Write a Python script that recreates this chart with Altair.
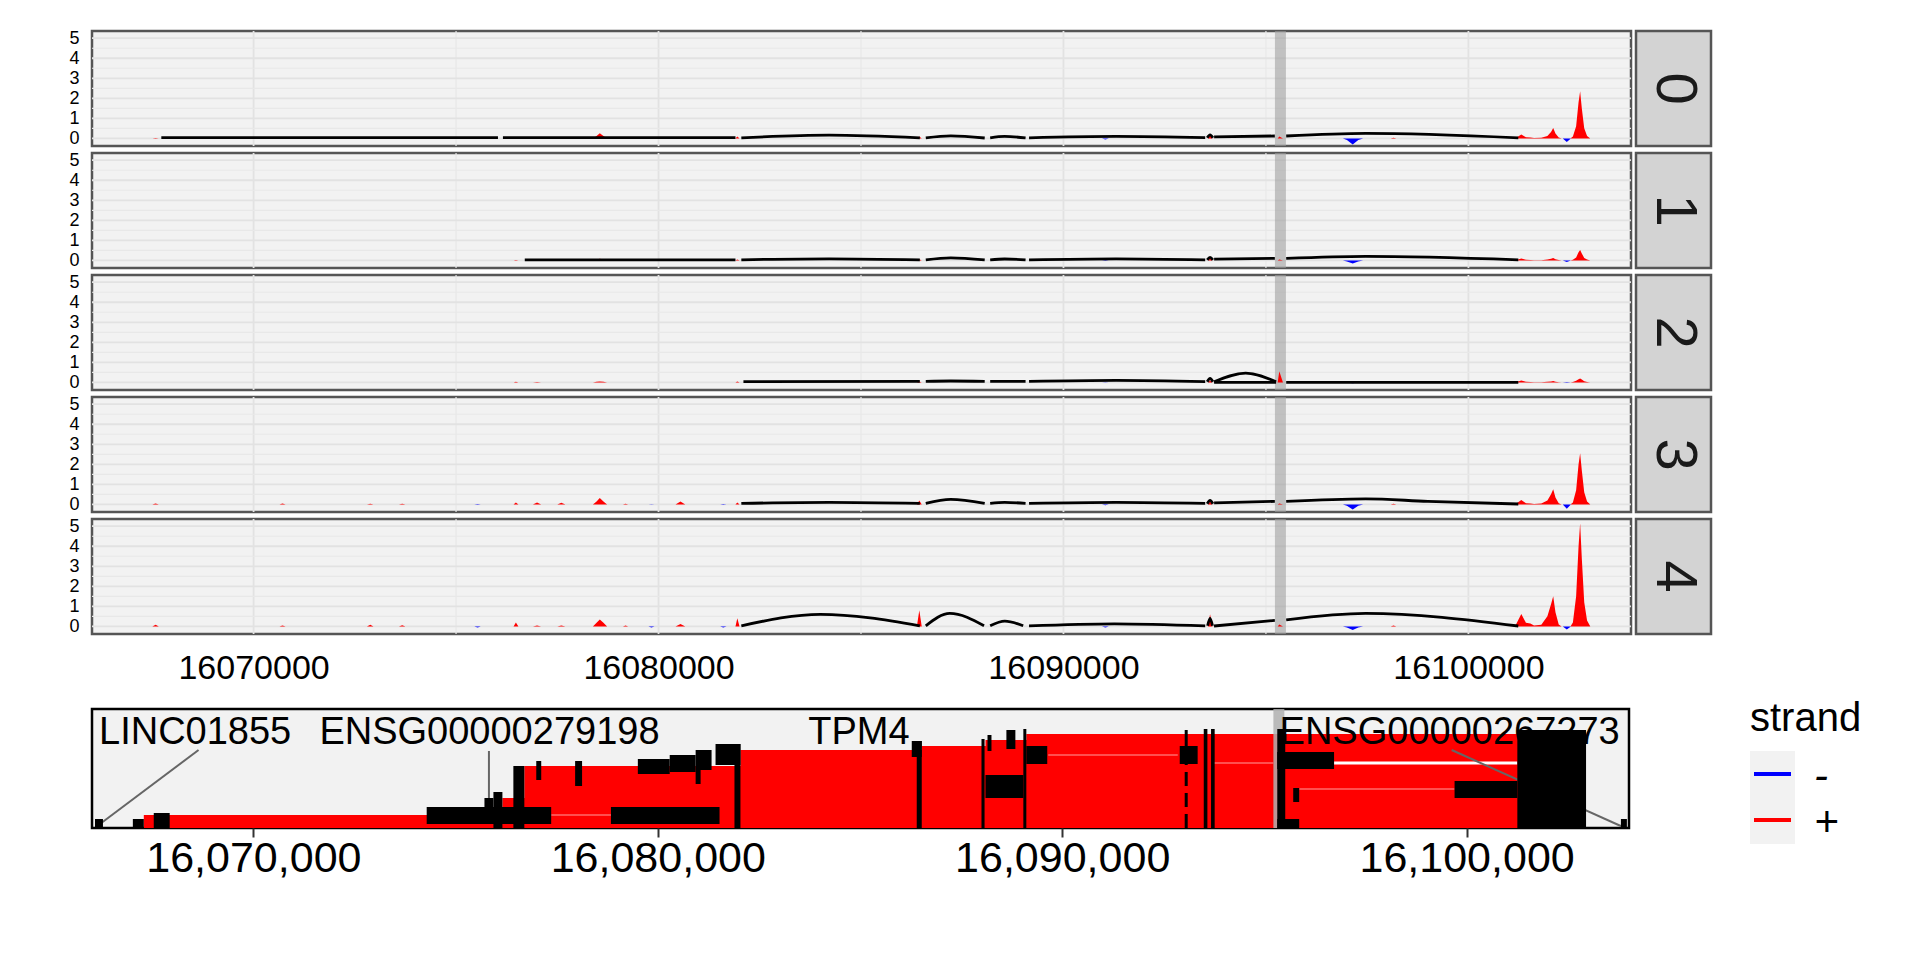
import altair as alt
import pandas as pd

FONT = "Liberation Sans"

# ---------------- axes / scales ----------------
X_DOMAIN = [16066010, 16104015]
Y_DOMAIN = [-0.38, 5.36]
X_TICKS = [16070000, 16080000, 16090000, 16100000]
X_MINOR = [16075000, 16085000, 16095000]
Y_TICKS = [0, 1, 2, 3, 4, 5]
Y_MINOR = [0.5, 1.5, 2.5, 3.5, 4.5]
PANELS = ["0", "1", "2", "3", "4"]
BAND = [16095222, 16095493]

# ---------------- coverage, + strand ----------------
POS_PLUS = [16066000,
            16067500, 16067580, 16067660,
            16070640, 16070714, 16070790,
            16072800, 16072882, 16072960,
            16073590, 16073670, 16073750,
            16076420, 16076478, 16076540,
            16076900, 16077000, 16077100,
            16077500, 16077600, 16077700,
            16078380, 16078470, 16078550, 16078640, 16078730,
            16079120, 16079187, 16079250,
            16080420, 16080542, 16080660,
            16081900, 16081946, 16082000,
            16086380, 16086440, 16086500,
            16093570, 16093620, 16093680,
            16095290, 16095330, 16095420,
            16098080, 16098150, 16098220,
            16101150, 16101306, 16101420, 16101530, 16101620, 16101800,
            16101950, 16102040, 16102094, 16102150, 16102230, 16102300,
            16102520, 16102580, 16102660, 16102720, 16102759, 16102800,
            16102860, 16102930, 16103010,
            16104000]
PLUS_0 = [0,
          0, 0.02, 0, 0, 0, 0, 0, 0, 0, 0, 0, 0,
          0, 0.03, 0, 0, 0, 0, 0, 0.02, 0,
          0, 0.12, 0.26, 0.12, 0,
          0, 0, 0, 0, 0.03, 0, 0, 0.1, 0,
          0, 0.1, 0, 0, 0.2, 0, 0, 0.1, 0, 0, 0.03, 0,
          0, 0.2, 0.06, 0.04, 0.02, 0.03, 0.12, 0.32, 0.52, 0.25, 0.05, 0,
          0, 0.1, 0.6, 1.8, 2.35, 1.5, 0.5, 0.12, 0,
          0]
PLUS_1 = [0,
          0, 0, 0, 0, 0, 0, 0, 0, 0, 0, 0, 0,
          0, 0.02, 0, 0, 0, 0, 0, 0, 0,
          0, 0.04, 0.08, 0.04, 0,
          0, 0, 0, 0, 0, 0, 0, 0.05, 0,
          0, 0.06, 0, 0, 0.1, 0, 0, 0.05, 0, 0, 0, 0,
          0, 0.1, 0.03, 0.02, 0.01, 0.01, 0.04, 0.08, 0.12, 0.06, 0.02, 0,
          0, 0.03, 0.15, 0.4, 0.52, 0.35, 0.12, 0.04, 0,
          0]
PLUS_2 = [0,
          0, 0, 0, 0, 0, 0, 0, 0, 0, 0, 0, 0,
          0, 0.03, 0, 0, 0.02, 0, 0, 0, 0,
          0, 0.03, 0.05, 0.03, 0,
          0, 0, 0, 0, 0, 0, 0, 0.04, 0,
          0, 0.04, 0, 0, 0.1, 0, 0, 0.55, 0, 0, 0, 0,
          0, 0.1, 0.03, 0.02, 0.01, 0.01, 0.03, 0.05, 0.07, 0.03, 0.01, 0,
          0, 0.02, 0.08, 0.16, 0.2, 0.14, 0.06, 0.02, 0,
          0]
PLUS_3 = [0,
          0, 0.05, 0, 0, 0.05, 0, 0, 0.03, 0, 0, 0.03, 0,
          0, 0.1, 0, 0, 0.1, 0, 0, 0.08, 0,
          0, 0.15, 0.32, 0.15, 0,
          0, 0.03, 0, 0, 0.15, 0, 0, 0.1, 0,
          0, 0.2, 0, 0, 0.15, 0, 0, 0.05, 0, 0, 0.03, 0,
          0, 0.22, 0.06, 0.04, 0.02, 0.04, 0.2, 0.5, 0.75, 0.35, 0.06, 0,
          0, 0.1, 0.7, 2.0, 2.55, 1.7, 0.6, 0.15, 0,
          0]
PLUS_4 = [0,
          0, 0.08, 0, 0, 0.05, 0, 0, 0.08, 0, 0, 0.06, 0,
          0, 0.2, 0, 0, 0.05, 0, 0, 0.05, 0,
          0, 0.18, 0.35, 0.18, 0,
          0, 0.05, 0, 0, 0.12, 0, 0, 0.4, 0,
          0, 0.8, 0, 0, 0.6, 0, 0, 0.1, 0, 0, 0.04, 0,
          0, 0.62, 0.18, 0.15, 0.05, 0.08, 0.5, 1.1, 1.5, 0.7, 0.1, 0,
          0, 0.2, 1.5, 4.0, 5.15, 3.4, 1.2, 0.3, 0,
          0]
PLUS = [PLUS_0, PLUS_1, PLUS_2, PLUS_3, PLUS_4]

# ---------------- coverage, - strand ----------------
POS_MINUS = [16066000,
             16075450, 16075532, 16075610,
             16079750, 16079827, 16079900,
             16081520, 16081600, 16081680,
             16090950, 16091035, 16091120,
             16096900, 16097000, 16097143, 16097280, 16097400,
             16102330, 16102430, 16102530,
             16104000]
MINUS_0 = [0, 0, 0, 0, 0, 0, 0, 0, 0, 0, 0, -0.05, 0,
           0, -0.08, -0.3, -0.08, 0, 0, -0.18, 0, 0]
MINUS_1 = [0, 0, 0, 0, 0, 0, 0, 0, 0, 0, 0, -0.03, 0,
           0, -0.05, -0.15, -0.05, 0, 0, -0.08, 0, 0]
MINUS_2 = [0, 0, 0, 0, 0, 0, 0, 0, 0, 0, 0, -0.02, 0,
           0, -0.01, -0.04, -0.01, 0, 0, -0.03, 0, 0]
MINUS_3 = [0, 0, -0.03, 0, 0, -0.02, 0, 0, -0.03, 0, 0, -0.04, 0,
           0, -0.07, -0.25, -0.07, 0, 0, -0.22, 0, 0]
MINUS_4 = [0, 0, -0.05, 0, 0, -0.05, 0, 0, -0.05, 0, 0, -0.06, 0,
           0, -0.06, -0.18, -0.06, 0, 0, -0.15, 0, 0]
MINUS = [MINUS_0, MINUS_1, MINUS_2, MINUS_3, MINUS_4]

# ---------------- junction arcs (black) ----------------
L0_X = [16067722, 16076035, 16076158, 16081900, 16082045, 16084212, 16086453,
        16086600, 16087217, 16088055, 16088190, 16088547, 16089064,
        16089150, 16091300, 16093500, 16093550, 16093620, 16093690,
        16093720, 16095220, 16095500, 16097463, 16101232]
L0_Y = [0.04, 0.04, 0.04, 0.04, 0.03, 0.16, 0.03, 0.03, 0.13, 0.02, 0.03, 0.1, 0.02,
        0.03, 0.1, 0.04, 0.03, 0.18, 0.03, 0.08, 0.12, 0.12, 0.25, 0.03]
L0_S = [0, 0, 1, 1, 2, 2, 2, 3, 3, 3, 4, 4, 4, 5, 5, 5, 6, 6, 6, 7, 7, 8, 8, 8]

L1_X = [16076697, 16081900, 16082045, 16084212, 16086453, 16086600, 16087217, 16088055,
        16088190, 16088547, 16089064, 16089150, 16091300, 16093500,
        16093550, 16093620, 16093690, 16093720, 16095220, 16095500, 16097463, 16101232]
L1_Y = [0.03, 0.03, 0.03, 0.08, 0.03, 0.03, 0.13, 0.03, 0.03, 0.07, 0.03, 0.03, 0.08, 0.03,
        0.03, 0.15, 0.03, 0.06, 0.1, 0.1, 0.2, 0.03]
L1_S = [0, 0, 1, 1, 1, 2, 2, 2, 3, 3, 3, 4, 4, 4, 5, 5, 5, 6, 6, 7, 7, 7]

L2_X = [16082097, 16086453, 16086600, 16087217, 16088055, 16088190, 16089064,
        16089150, 16091300, 16093500, 16093550, 16093620, 16093690,
        16093720, 16094500, 16095250, 16093720, 16095250, 16095500, 16101232]
L2_Y = [0.04, 0.05, 0.05, 0.07, 0.05, 0.05, 0.05, 0.05, 0.1, 0.04, 0.03, 0.2, 0.03,
        0.03, 0.46, 0.03, 0.0, 0.0, 0.0, 0.0]
L2_S = [0, 0, 1, 1, 1, 2, 2, 3, 3, 3, 4, 4, 4, 5, 5, 5, 6, 6, 7, 7]

L3_X = [16082045, 16084212, 16086453, 16086600, 16087217, 16088055, 16088190, 16088547,
        16089064, 16089150, 16091300, 16093500, 16093550, 16093620, 16093690,
        16093720, 16095220, 16095500, 16097463, 16099000, 16101232]
L3_Y = [0.05, 0.1, 0.05, 0.05, 0.25, 0.05, 0.05, 0.1, 0.05, 0.05, 0.1, 0.05,
        0.03, 0.2, 0.03, 0.08, 0.15, 0.15, 0.28, 0.15, 0.02]
L3_S = [0, 0, 0, 1, 1, 1, 2, 2, 2, 3, 3, 3, 4, 4, 4, 5, 5, 6, 6, 6, 6]

L4_X = [16082045, 16084000, 16086453, 16086600, 16087194, 16088039, 16088190, 16088552,
        16089005, 16089150, 16091256, 16093500, 16093560, 16093620, 16093680,
        16093718, 16095220, 16095500, 16097463, 16101232]
L4_Y = [0.03, 0.6, 0.03, 0.03, 0.65, 0.03, 0.03, 0.26, 0.03, 0.03, 0.13, 0.03,
        0.03, 0.4, 0.03, 0.02, 0.3, 0.33, 0.65, 0.02]
L4_S = [0, 0, 0, 1, 1, 1, 2, 2, 2, 3, 3, 3, 4, 4, 4, 5, 5, 6, 6, 6]

LINES = [(L0_X, L0_Y, L0_S), (L1_X, L1_Y, L1_S), (L2_X, L2_Y, L2_S),
         (L3_X, L3_Y, L3_S), (L4_X, L4_Y, L4_S)]

# ---------------- gene track ----------------
TRACK_DOMAIN = [0, 119]
RED_START = [16067291, 16076158, 16076700, 16082044, 16086527, 16088103, 16089113]
RED_END = [16102900, 16102900, 16102900, 16102900, 16102900, 16102900, 16102900]
RED_BOTTOM = [0, 0, 0, 0, 0, 0, 0]
RED_TOP = [13, 30, 62, 78, 82, 88, 94]

INTRON_START = [16077364, 16089655, 16093718, 16095860]
INTRON_END = [16078842, 16092857, 16095220, 16099702]
INTRON_Y = [13, 73, 65, 39]
GAP_START = [16096722]
GAP_END = [16101254]
GAP_Y = [65]

EXON_START = [16066084, 16067020, 16067537, 16074286, 16075714, 16075936, 16076429,
              16076995, 16077956, 16078842, 16079507, 16080295, 16080936, 16080936,
              16081428, 16081896, 16086280, 16086403, 16088004, 16088153, 16088620,
              16089039, 16088103, 16089113, 16092906, 16093029, 16093500, 16093680,
              16095318, 16095318, 16095712, 16095318, 16099702, 16101254, 16103815]
EXON_END = [16066281, 16067291, 16067931, 16077364, 16075936, 16076158, 16076700,
            16077118, 16078128, 16081527, 16080295, 16080936, 16081330, 16081059,
            16082044, 16082044, 16086527, 16086527, 16088080, 16088251, 16088842,
            16089113, 16089039, 16089630, 16093349, 16093103, 16093590, 16093770,
            16095515, 16096722, 16095860, 16095860, 16101254, 16102953, 16103963]
EXON_Y0 = [0, 0, 0, 4, 4, 0, 0, 48, 42, 4, 54, 56, 58, 44, 63, 0, 71, 0, 0, 77, 79,
           0, 30, 64, 64, 82, 0, 0, 0, 59, 26, 0, 30, 0, 0]
EXON_Y1 = [9, 9, 15, 21, 30, 36, 62, 67, 67, 21, 69, 73, 78, 58, 84, 84, 87, 87, 89,
           93, 98, 99, 53, 82, 82, 98, 99, 99, 99, 76, 40, 9, 47, 98, 9]
DASH_X = [16093066]
DASH_Y0 = [0]
DASH_Y1 = [64]

GENE_LABELS = ["LINC01855", "ENSG00000279198", "TPM4", "ENSG00000267273"]
GENE_LABEL_X = [16068560, 16075838, 16084975, 16099580]
GENE_LABEL_Y = [95, 95, 95, 95]
LEADER_X = [16068645, 16075825, 16099630]
LEADER_Y = [78, 77, 78]
LEADER_X2 = [16066108, 16075825, 16103866]
LEADER_Y2 = [1, 13, 1]

STRAND_LABELS = ["-", "+"]
STRAND_COLORS = ["#0000FF", "#FF0000"]

# ---------------- building ----------------
W, H = 1539, 115
TW, TH = 1537, 119
xs = alt.Scale(domain=X_DOMAIN, nice=False, zero=False)
ys = alt.Scale(domain=Y_DOMAIN, nice=False, zero=False)
ts = alt.Scale(domain=TRACK_DOMAIN, nice=False, zero=False)


def panel(i):
    if i == 4:
        xaxis = alt.Axis(values=X_TICKS, format="d", labelFontSize=34, labelFont=FONT,
                         labelColor="black", ticks=False, domain=False, grid=False,
                         labelPadding=17, title=None, minExtent=62, maxExtent=62,
                         labelFlush=False, labelLimit=0)
    else:
        xaxis = None
    yaxis = alt.Axis(values=Y_TICKS, labelFontSize=18, labelFont=FONT, labelColor="black",
                     ticks=False, domain=False, grid=False, labelPadding=13, title=None,
                     minExtent=30, maxExtent=30, labelOverlap=False)
    X = lambda f: alt.X(f, scale=xs, axis=xaxis)
    Y = lambda f: alt.Y(f, scale=ys, axis=yaxis)

    gmaj = alt.Chart(pd.DataFrame({"g": X_TICKS})).mark_rule(
        color="#E2E2E2", strokeWidth=1.8).encode(x=X("g:Q"))
    gmin = alt.Chart(pd.DataFrame({"g": X_MINOR})).mark_rule(
        color="#E8E8E8", strokeWidth=1.2).encode(x=X("g:Q"))
    hmaj = alt.Chart(pd.DataFrame({"v": Y_TICKS})).mark_rule(
        color="#E2E2E2", strokeWidth=1.8).encode(y=Y("v:Q"))
    hmin = alt.Chart(pd.DataFrame({"v": Y_MINOR})).mark_rule(
        color="#E8E8E8", strokeWidth=1.2).encode(y=Y("v:Q"))
    band = alt.Chart(pd.DataFrame({"a": [BAND[0]], "b": [BAND[1]]})).mark_rect(
        color="#A0A0A0", opacity=0.6).encode(x=X("a:Q"), x2="b:Q")
    plus = alt.Chart(pd.DataFrame({"g": POS_PLUS, "v": PLUS[i]})).mark_area(
        color="#FF0000", clip=True).encode(x=X("g:Q"), y=Y("v:Q"), y2=alt.datum(0))
    minus = alt.Chart(pd.DataFrame({"g": POS_MINUS, "v": MINUS[i]})).mark_area(
        color="#0000FF", clip=True).encode(x=X("g:Q"), y=Y("v:Q"), y2=alt.datum(0))
    lx, ly, ls = LINES[i]
    line = alt.Chart(pd.DataFrame({"g": lx, "v": ly, "seg": ls})).mark_line(
        color="black", strokeWidth=2.8, interpolate="monotone", clip=True).encode(
        x=X("g:Q"), y=Y("v:Q"), detail="seg:N")
    return alt.layer(gmin, gmaj, hmin, hmaj, band, plus, minus, line).properties(
        width=W, height=H,
        view=alt.ViewBackground(fill="#F2F2F2", stroke="#555555", strokeWidth=2.5))


def strip(i):
    return alt.Chart(pd.DataFrame({"p": [PANELS[i]]})).mark_text(
        angle=90, fontSize=58, font=FONT, color="#1A1A1A").encode(
        x=alt.X("p:N", axis=None), y=alt.Y("p:N", axis=None), text="p:N").properties(
        width=75, height=H,
        view=alt.ViewBackground(fill="#D3D3D3", stroke="#555555", strokeWidth=2.5))


def track():
    xaxis = alt.Axis(values=X_TICKS, format=",d", labelFontSize=43, labelFont=FONT,
                     labelColor="black", tickSize=9, tickWidth=2, tickColor="#333333",
                     domain=False, grid=False, labelPadding=0, title=None,
                     labelFlush=False, labelLimit=0)
    yaxis = alt.Axis(labels=False, ticks=False, domain=False, grid=False, title=None,
                     minExtent=30, maxExtent=30)
    X = lambda f: alt.X(f, scale=xs, axis=xaxis)
    Y = lambda f: alt.Y(f, scale=ts, axis=yaxis)
    red = alt.Chart(pd.DataFrame({"s": RED_START, "e": RED_END, "b": RED_BOTTOM,
                                  "t": RED_TOP})).mark_rect(color="#FF0000").encode(
        x=X("s:Q"), x2="e:Q", y=Y("b:Q"), y2="t:Q")
    introns = alt.Chart(pd.DataFrame({"s": INTRON_START, "e": INTRON_END,
                                      "y": INTRON_Y})).mark_rule(
        color="#FF6A6A", strokeWidth=1.5).encode(x=X("s:Q"), x2="e:Q", y=Y("y:Q"))
    gap = alt.Chart(pd.DataFrame({"s": GAP_START, "e": GAP_END, "y": GAP_Y})).mark_rule(
        color="white", strokeWidth=3).encode(x=X("s:Q"), x2="e:Q", y=Y("y:Q"))
    band = alt.Chart(pd.DataFrame({"a": [BAND[0]], "b": [BAND[1]]})).mark_rect(
        color="#B0B0B0", opacity=0.85).encode(x=X("a:Q"), x2="b:Q")
    labels = alt.Chart(pd.DataFrame({"g": GENE_LABEL_X, "y": GENE_LABEL_Y,
                                     "t": GENE_LABELS})).mark_text(
        fontSize=38, font=FONT, color="black", baseline="middle", align="center").encode(
        x=X("g:Q"), y=Y("y:Q"), text="t:N")
    leaders = alt.Chart(pd.DataFrame({"x": LEADER_X, "y": LEADER_Y, "x2": LEADER_X2,
                                      "y2": LEADER_Y2})).mark_rule(
        color="#666666", strokeWidth=2).encode(x=X("x:Q"), x2="x2:Q", y=Y("y:Q"), y2="y2:Q")
    exons = alt.Chart(pd.DataFrame({"s": EXON_START, "e": EXON_END, "b": EXON_Y0,
                                    "t": EXON_Y1})).mark_rect(color="black").encode(
        x=X("s:Q"), x2="e:Q", y=Y("b:Q"), y2="t:Q")
    dash = alt.Chart(pd.DataFrame({"x": DASH_X, "b": DASH_Y0, "t": DASH_Y1})).mark_rule(
        color="black", strokeWidth=3, strokeDash=[14, 7]).encode(
        x=X("x:Q"), y=Y("b:Q"), y2="t:Q")
    return alt.layer(red, introns, gap, band, labels, leaders, exons, dash).properties(
        width=TW, height=TH,
        view=alt.ViewBackground(fill="#F2F2F2", stroke="black", strokeWidth=2.5))


def legend():
    one = pd.DataFrame({"a": [0]})
    bg = alt.Chart(one).mark_rect(color="#F2F2F2").encode(
        x=alt.value(114), x2=alt.value(159), y=alt.value(42), y2=alt.value(135))
    title = alt.Chart(one).mark_text(fontSize=40, font=FONT, color="black", align="left",
                                     baseline="alphabetic").encode(
        x=alt.value(114), y=alt.value(22), text=alt.value("strand"))
    parts = [bg, title]
    for lab, col, yy in zip(STRAND_LABELS, STRAND_COLORS, [65, 111]):
        df = pd.DataFrame({"s": [lab]})
        parts.append(alt.Chart(df).mark_rule(color=col, strokeWidth=4).encode(
            x=alt.value(118), x2=alt.value(155), y=alt.value(yy)))
        parts.append(alt.Chart(df).mark_text(fontSize=42, font=FONT, fontStyle="italic",
                                             color="black", align="left",
                                             baseline="middle").encode(
            x=alt.value(178), y=alt.value(yy + 3), text="s:N"))
    return alt.layer(*parts).properties(
        width=240, height=135,
        view=alt.ViewBackground(fill="transparent", stroke="transparent"))


cells = []
for i in range(5):
    cells.append(panel(i))
    cells.append(strip(i))
cells.append(track())
cells.append(legend())

chart = alt.concat(*cells, columns=2, spacing={"row": 0, "column": 0}).properties(
    padding={"left": 52, "top": 19, "right": 5, "bottom": 5}
).configure(font=FONT)

chart.save("out.html", embed_options={"renderer": "svg", "actions": False})
